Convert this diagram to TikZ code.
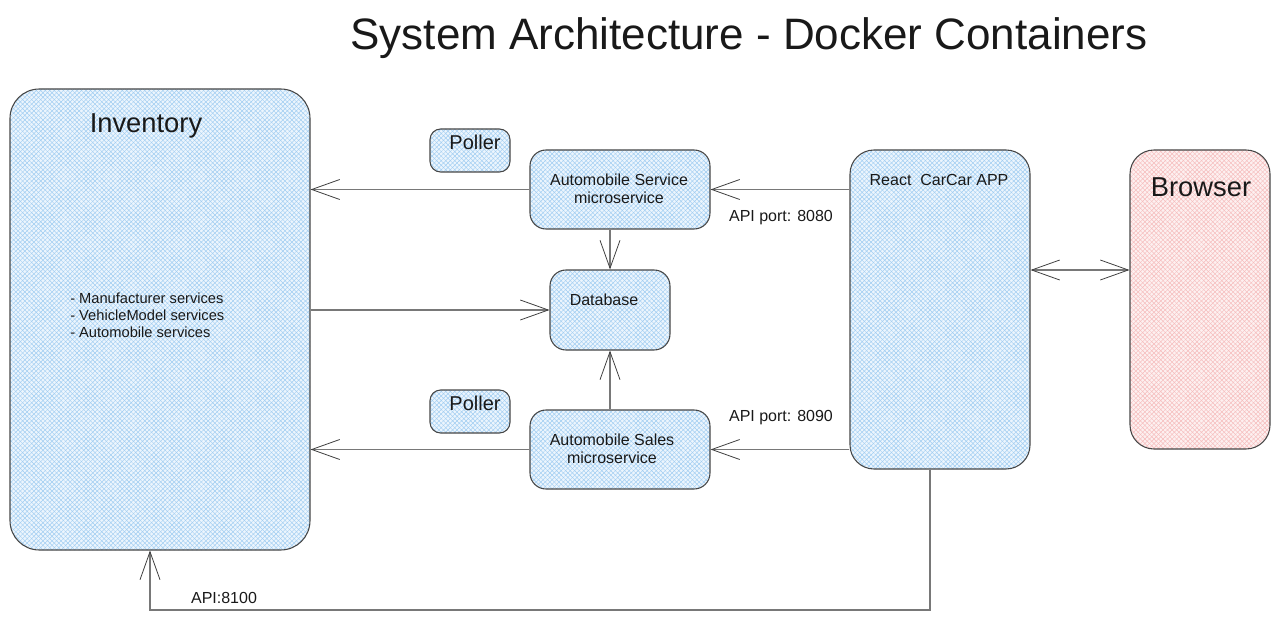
\documentclass[tikz,border=0pt]{standalone}
\usepackage{fontspec}
\setmainfont{Liberation Sans}
\usetikzlibrary{arrows.meta,patterns.meta}
\definecolor{hblue}{RGB}{160,205,242}
\definecolor{hbluebg}{RGB}{236,245,253}
\definecolor{hred}{RGB}{246,188,188}
\definecolor{hredbg}{RGB}{253,240,240}
\definecolor{edgec}{RGB}{120,120,120}
\definecolor{borderc}{RGB}{70,70,70}
\tikzset{
  hatchbox/.style={draw=borderc, line width=0.8pt, rounded corners=#1,
    preaction={fill=hbluebg},
    preaction={pattern={Lines[angle=45,distance=2.4pt,line width=0.35pt]},pattern color=hblue},
    preaction={pattern={Lines[angle=-45,distance=2.4pt,line width=0.35pt]},pattern color=hblue},
    inner sep=0pt},
  redbox/.style={draw=borderc, line width=0.8pt, rounded corners=#1,
    preaction={fill=hredbg},
    preaction={pattern={Lines[angle=45,distance=2.4pt,line width=0.35pt]},pattern color=hred},
    preaction={pattern={Lines[angle=-45,distance=2.4pt,line width=0.35pt]},pattern color=hred},
    inner sep=0pt},
  conn/.style={draw=edgec, line width=1.1pt,
    -{Straight Barb[length=21pt,width=15pt,line width=0.6pt,color=black!75]}},
  biconn/.style={draw=edgec, line width=1.1pt,
    {Straight Barb[length=21pt,width=15pt,line width=0.6pt,color=black!75]}-{Straight Barb[length=21pt,width=15pt,line width=0.6pt,color=black!75]}},
  txt/.style={inner sep=0pt, text=black!90, font=\fontsize{12}{13.5}\selectfont, align=center},
  bigtxt/.style={inner sep=0pt, text=black!90, font=\fontsize{20.5}{24}\selectfont},
  midtxt/.style={inner sep=0pt, text=black!90, font=\fontsize{15}{18}\selectfont},
}
\begin{document}
\begin{tikzpicture}[x=0.75pt,y=-0.75pt]
\useasboundingbox (0,0) rectangle (1280,620);
% boxes
\node[hatchbox=22pt, minimum width=225pt, minimum height=345.75pt] (Inv) at (160,319.5) {};
\node[hatchbox=8pt, minimum width=60pt, minimum height=32.25pt] (P1) at (470,150.5) {};
\node[hatchbox=12pt, minimum width=135pt, minimum height=59.25pt] (AS) at (620,189.5) {};
\node[hatchbox=12pt, minimum width=90pt, minimum height=60pt] (DB) at (610,310) {};
\node[hatchbox=8pt, minimum width=60pt, minimum height=32.25pt] (P2) at (470,411.5) {};
\node[hatchbox=12pt, minimum width=135pt, minimum height=59.25pt] (ASa) at (620,449.5) {};
\node[hatchbox=18pt, minimum width=135pt, minimum height=239.25pt] (React) at (940,309.5) {};
\node[redbox=18pt, minimum width=105pt, minimum height=224.25pt] (Br) at (1200,299.5) {};
% texts
\node[inner sep=0pt, font=\fontsize{33}{38}\selectfont, text=black!90] (title) at (749,38) {System Architecture - Docker Containers};
\node[bigtxt] (invt) at (146,126) {Inventory};
\node[inner sep=0pt, anchor=west, align=left, text=black!90, font=\fontsize{11}{12.75}\selectfont] (invl) at (70,315) {- Manufacturer services\\- VehicleModel services\\- Automobile services};
\node[midtxt] (p1t) at (475,142) {Poller};
\node[midtxt] (p2t) at (475,403) {Poller};
\node[txt] (ast) at (619,189) {Automobile Service\\microservice};
\node[txt] (dbt) at (604,300) {Database};
\node[txt] (asat) at (612,449) {Automobile Sales\\microservice};
\node[txt] (rt) at (939,180) {React\ \ CarCar APP};
\node[bigtxt] (brt) at (1201,187) {Browser};
\node[txt] (l1) at (781,218) {API port: 8080};
\node[txt] (l2) at (781,418) {API port: 8090};
\node[txt] (l3) at (224,598) {API:8100};
% helper coordinates
\coordinate (bi) at (0,270);
\coordinate (rx) at (930,0);
\coordinate (ix) at (150,0);
\coordinate (ret) at (0,610);
% connectors
\draw[conn] (AS.west) -- (AS.west -| Inv.east);
\draw[conn] (React.west |- AS.east) -- (AS.east);
\draw[conn] (AS.south -| DB.north) -- (DB.north);
\draw[conn] (Inv.east |- DB.west) -- (DB.west);
\draw[conn] (ASa.north -| DB.south) -- (DB.south);
\draw[conn] (ASa.west) -- (ASa.west -| Inv.east);
\draw[conn] (React.west |- ASa.east) -- (ASa.east);
\draw[biconn] (React.east |- bi) -- (Br.west |- bi);
\draw[conn] (React.south -| rx) -- (rx |- ret) -- (ix |- ret) -- (Inv.south -| ix);
\end{tikzpicture}
\end{document}
